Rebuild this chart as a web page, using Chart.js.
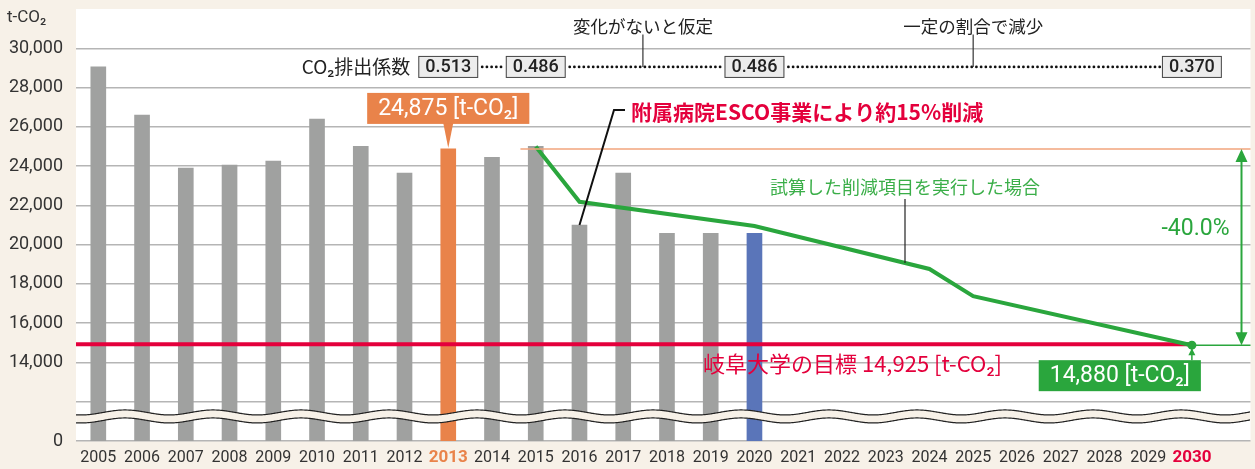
<!DOCTYPE html>
<html lang="ja">
<head>
<meta charset="UTF-8">
<title>CO2排出量の推移</title>
<script src="https://cdn.jsdelivr.net/npm/chart.js"></script>
<style>
  html, body { margin: 0; padding: 0; background: #f7f1e8; }
  #wrap { width: 1255px; height: 469px; }
</style>
</head>
<body>
<div id="wrap"><canvas id="co2Chart"></canvas></div>
<script>
// 年度
const years = [2005, 2006, 2007, 2008, 2009, 2010, 2011, 2012, 2013, 2014, 2015, 2016, 2017,
               2018, 2019, 2020, 2021, 2022, 2023, 2024, 2025, 2026, 2027, 2028, 2029, 2030];
// 排出量実績 (t-CO2)
const actualYears = [2005, 2006, 2007, 2008, 2009, 2010, 2011, 2012, 2013, 2014, 2015, 2016, 2017, 2018, 2019, 2020];
const actualValues = [29050, 26600, 23900, 24050, 24250, 26400, 25000, 23650, 24875, 24450, 25000, 21000, 23650, 20580, 20580, 20580];
// 試算した削減項目を実行した場合
const planYears = [2015, 2016, 2020, 2024, 2025, 2030];
const planValues = [25000, 22180, 20950, 18760, 17380, 14880];
// 基準年と目標
const baseYear = 2013;
const baseValue = 24875;
const targetValue = 14925;
// CO2排出係数
const factorYears = [2013, 2015, 2020, 2030];
const factorLabels = ['0.513', '0.486', '0.486', '0.370'];
// 縦軸目盛 (10,000 の位置を 0 として表示)
const yTicks = [10000, 12000, 14000, 16000, 18000, 20000, 22000, 24000, 26000, 28000, 30000];

const NUM = 'Roboto, "Noto Sans CJK JP", sans-serif';
const JP = '"Noto Sans CJK JP", Roboto, sans-serif';
const GRAY = '#a0a1a0', ORANGE = '#e9834a', BLUE = '#5a75b9', GREEN = '#2aa63d', RED = '#e4003c';

const barColors = actualYears.map(y => y === baseYear ? ORANGE : (y === 2020 ? BLUE : GRAY));

function fmt(v) { return v.toLocaleString('en-US'); }
function tickYear(c) { return c.tick ? c.tick.value : null; }

const background = {
    id: 'background',
    beforeDraw(chart) {
        const { ctx, chartArea: a } = chart;
        ctx.save();
        ctx.fillStyle = '#f7f1e8';
        ctx.fillRect(0, 0, chart.width, chart.height);
        ctx.fillStyle = '#ffffff';
        ctx.fillRect(a.left, a.top, a.right - a.left, a.bottom - a.top);
        ctx.restore();
    }
};

function labelBox(ctx, text, cx, top, h, fill, font) {
    ctx.font = font;
    const w = ctx.measureText(text).width + 22;
    ctx.fillStyle = fill;
    ctx.fillRect(cx - w / 2, top, w, h);
    ctx.fillStyle = '#fff';
    ctx.textAlign = 'center';
    ctx.textBaseline = 'middle';
    ctx.fillText(text, cx, top + h / 2 + 1);
    return w;
}

const annotations = {
    id: 'annotations',
    afterDatasetsDraw(chart) {
        const { ctx, chartArea: a } = chart;
        const xs = v => chart.scales.x.getPixelForValue(v);
        const ys = v => chart.scales.y.getPixelForValue(v);
        ctx.save();

        // 省略線 (波線)
        const mid = ys(11250);
        const wave = (x, off) => mid + off + 2.5 * Math.sin((x - a.left) / 88 * 2 * Math.PI + 1.2);
        ctx.beginPath();
        for (let x = a.left; x <= a.right; x++) ctx.lineTo(x, wave(x, -4));
        for (let x = a.right; x >= a.left; x--) ctx.lineTo(x, wave(x, 4));
        ctx.closePath();
        ctx.fillStyle = '#f7f1e8';
        ctx.fill();
        ctx.strokeStyle = '#222';
        ctx.lineWidth = 1.2;
        [-4, 4].forEach(off => {
            ctx.beginPath();
            for (let x = a.left; x <= a.right; x++) ctx.lineTo(x, wave(x, off));
            ctx.stroke();
        });

        // 基準年の水平線
        const yBase = ys(baseValue);
        ctx.strokeStyle = '#f2a47c';
        ctx.lineWidth = 1.5;
        ctx.beginPath();
        ctx.moveTo(xs(2014.65), yBase);
        ctx.lineTo(a.right, yBase);
        ctx.stroke();

        // 2030 の値から右端へ
        const yEnd = ys(planValues[planValues.length - 1]);
        const xEnd = xs(2030);
        ctx.strokeStyle = GREEN;
        ctx.beginPath();
        ctx.moveTo(xEnd, yEnd);
        ctx.lineTo(a.right, yEnd);
        ctx.stroke();

        // -40.0% の両矢印
        const xa = a.right - 9;
        ctx.lineWidth = 2;
        ctx.beginPath();
        ctx.moveTo(xa, yBase + 8);
        ctx.lineTo(xa, yEnd - 8);
        ctx.stroke();
        ctx.fillStyle = GREEN;
        ctx.beginPath();
        ctx.moveTo(xa, yBase); ctx.lineTo(xa - 6, yBase + 13); ctx.lineTo(xa + 6, yBase + 13); ctx.closePath();
        ctx.moveTo(xa, yEnd); ctx.lineTo(xa - 6, yEnd - 13); ctx.lineTo(xa + 6, yEnd - 13); ctx.closePath();
        ctx.fill();
        ctx.font = '23px ' + NUM;
        ctx.textAlign = 'right';
        ctx.textBaseline = 'middle';
        ctx.fillText('-40.0%', a.right - 21, (yBase + yEnd) / 2 - 18);

        // 2030 の値ラベル
        ctx.strokeStyle = GREEN;
        ctx.lineWidth = 1.5;
        ctx.beginPath();
        ctx.moveTo(xEnd, yEnd + 4);
        ctx.lineTo(xEnd, yEnd + 15);
        ctx.stroke();
        ctx.beginPath();
        ctx.moveTo(xEnd, yEnd + 3); ctx.lineTo(xEnd - 3.5, yEnd + 10); ctx.lineTo(xEnd + 3.5, yEnd + 10); ctx.closePath();
        ctx.fill();
        const boxFont = '23px ' + NUM;
        ctx.font = boxFont;
        const endText = fmt(planValues[planValues.length - 1]) + ' [t-CO₂]';
        const wEnd = ctx.measureText(endText).width + 22;
        labelBox(ctx, endText, xEnd + 9 - wEnd / 2, yEnd + 15, 31, GREEN, boxFont);

        // 目標
        ctx.fillStyle = RED;
        ctx.font = '22px ' + JP;
        ctx.textAlign = 'left';
        ctx.textBaseline = 'middle';
        ctx.fillText('岐阜大学の目標 ' + fmt(targetValue) + ' [t-CO₂]', 703, ys(targetValue) + 19);

        // 基準年の値ラベル
        const xBase = xs(baseYear);
        const boxBottom = ys(baseValue) - 25;
        ctx.fillStyle = ORANGE;
        ctx.beginPath();
        ctx.moveTo(xBase - 5, boxBottom - 1); ctx.lineTo(xBase + 5, boxBottom - 1); ctx.lineTo(xBase, ys(baseValue) - 1); ctx.closePath();
        ctx.fill();
        labelBox(ctx, fmt(baseValue) + ' [t-CO₂]', xBase, boxBottom - 31, 31, ORANGE, boxFont);

        // ESCO 事業の説明
        const x16 = xs(2016), y16 = ys(actualValues[actualYears.indexOf(2016)]);
        ctx.strokeStyle = '#111';
        ctx.lineWidth = 2;
        ctx.beginPath();
        ctx.moveTo(625, 110);
        ctx.lineTo(614, 110);
        ctx.lineTo(x16, y16);
        ctx.stroke();
        ctx.fillStyle = RED;
        ctx.font = 'bold 21px ' + JP;
        ctx.textAlign = 'left';
        ctx.fillText('附属病院ESCO事業により約15%削減', 631, 112);

        // 試算ラインの説明
        const xl = 905;
        const i0 = 2, i1 = 3;
        const x0 = xs(planYears[i0]), x1 = xs(planYears[i1]);
        const yl = ys(planValues[i0]) + (ys(planValues[i1]) - ys(planValues[i0])) * (xl - x0) / (x1 - x0);
        ctx.strokeStyle = '#222';
        ctx.lineWidth = 1.2;
        ctx.beginPath();
        ctx.moveTo(xl, 199);
        ctx.lineTo(xl, yl);
        ctx.stroke();
        ctx.fillStyle = '#3aae48';
        ctx.font = '18px ' + JP;
        ctx.textAlign = 'center';
        ctx.fillText('試算した削減項目を実行した場合', xl, 187);

        // CO2排出係数の行
        const rowY = ys(29050);
        ctx.font = '500 18px ' + NUM;
        const boxes = factorYears.map((yr, i) => {
            const w = ctx.measureText(factorLabels[i]).width + 14;
            return { l: xs(yr) - w / 2, r: xs(yr) + w / 2, cx: xs(yr), text: factorLabels[i] };
        });
        ctx.strokeStyle = '#111';
        ctx.lineWidth = 2.8;
        ctx.lineCap = 'round';
        ctx.setLineDash([0, 4.7]);
        for (let i = 0; i < boxes.length - 1; i++) {
            ctx.beginPath();
            ctx.moveTo(boxes[i].r + 4, rowY);
            ctx.lineTo(boxes[i + 1].l - 2, rowY);
            ctx.stroke();
        }
        ctx.setLineDash([]);
        ctx.lineCap = 'butt';
        boxes.forEach(b => {
            ctx.fillStyle = '#ececec';
            ctx.fillRect(b.l, rowY - 11, b.r - b.l, 22);
            ctx.strokeStyle = '#444';
            ctx.lineWidth = 1;
            ctx.strokeRect(b.l + 0.5, rowY - 10.5, b.r - b.l - 1, 21);
            ctx.fillStyle = '#222';
            ctx.textAlign = 'center';
            ctx.textBaseline = 'middle';
            ctx.fillText(b.text, b.cx, rowY + 1);
        });
        ctx.font = '19px ' + JP;
        ctx.textAlign = 'right';
        ctx.fillText('CO₂排出係数', boxes[0].l - 8, rowY);

        // 上部の注記
        ctx.strokeStyle = '#333';
        ctx.lineWidth = 1.2;
        ctx.font = '17.5px ' + JP;
        ctx.textAlign = 'center';
        [[xs(2017.45), '変化がないと仮定'], [xs(2025), '一定の割合で減少']].forEach(([x, t]) => {
            ctx.beginPath();
            ctx.moveTo(x, ys(30700));
            ctx.lineTo(x, rowY);
            ctx.stroke();
            ctx.fillText(t, x, ys(31100));
        });

        // 単位
        ctx.fillStyle = '#333';
        ctx.font = '17px ' + NUM;
        ctx.textAlign = 'left';
        ctx.fillText('t-CO₂', 7, 18);
        ctx.restore();
    }
};

new Chart(document.getElementById('co2Chart'), {
    type: 'bar',
    data: {
        datasets: [
            {
                type: 'line',
                data: planYears.map((x, i) => ({ x, y: planValues[i] })),
                borderColor: GREEN,
                borderWidth: 4,
                pointRadius: planYears.map((_, i) => i === planYears.length - 1 ? 4.5 : 0),
                pointBackgroundColor: GREEN,
                pointBorderWidth: 0,
                order: 1
            },
            {
                type: 'line',
                data: [{ x: 2004.49, y: targetValue }, { x: 2030, y: targetValue }],
                borderColor: RED,
                borderWidth: 4,
                pointRadius: 0,
                order: 2
            },
            {
                type: 'bar',
                data: actualYears.map((x, i) => ({ x, y: actualValues[i] })),
                backgroundColor: barColors,
                barThickness: 15,
                order: 3
            }
        ]
    },
    options: {
        responsive: true,
        maintainAspectRatio: false,
        animation: false,
        layout: { padding: { top: 9, right: 0, left: 0, bottom: 0 } },
        plugins: { legend: { display: false }, tooltip: { enabled: false } },
        scales: {
            x: {
                type: 'linear',
                offset: false,
                min: 2004.49,
                max: 2031.34,
                afterBuildTicks: s => { s.ticks = years.map(v => ({ value: v })); },
                afterFit: s => { s.height = 28; s.paddingLeft = 0; s.paddingRight = 0; },
                grid: { display: false, drawTicks: false },
                border: { display: false },
                ticks: {
                    autoSkip: false,
                    maxRotation: 0,
                    padding: 7,
                    callback: v => String(v),
                    color: c => tickYear(c) === 2013 ? ORANGE : (tickYear(c) === 2030 ? RED : '#333'),
                    font: c => {
                        const hi = tickYear(c) === 2013 || tickYear(c) === 2030;
                        return { family: NUM, size: hi ? 17 : 16, weight: hi ? 'bold' : 'normal' };
                    }
                }
            },
            y: {
                min: 10000,
                max: 32000,
                afterBuildTicks: s => { s.ticks = yTicks.map(v => ({ value: v })); },
                afterFit: s => { s.width = 76; s.paddingTop = 0; s.paddingBottom = 0; },
                grid: { color: '#b5b5b5', lineWidth: 1.5, drawTicks: false },
                border: { display: false },
                ticks: {
                    padding: 13,
                    color: '#333',
                    font: { family: NUM, size: 18 },
                    callback: v => v === 10000 ? '0' : (v === 12000 ? '' : fmt(v))
                }
            }
        }
    },
    plugins: [background, annotations]
});
</script>
</body>
</html>
